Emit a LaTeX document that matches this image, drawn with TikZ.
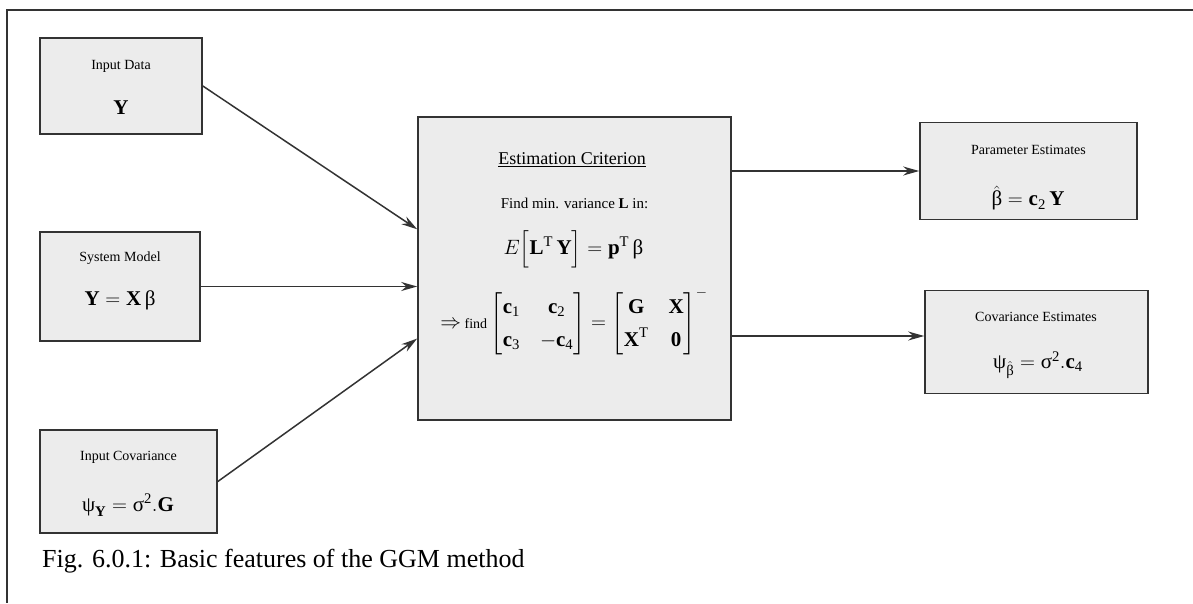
\documentclass[tikz,border=0pt]{standalone}
\usepackage{amsmath}
\usepackage{fontspec}
\setmainfont{Liberation Serif}
\usetikzlibrary{arrows.meta,positioning}

\definecolor{boxfill}{HTML}{ECECEC}
\definecolor{inkline}{HTML}{333333}

\newcommand{\gbeta}{\text{β}}
\newcommand{\gpsi}{\text{ψ}}
\newcommand{\gsigma}{\text{σ}}
\newcommand{\bv}[1]{\textbf{#1}}
\newcommand{\labsize}{\fontsize{14}{17}\selectfont}
\newcommand{\eqsize}{\fontsize{21}{25}\selectfont}

\tikzset{
  ggmbox/.style={draw=inkline, line width=1.6pt, fill=boxfill, inner sep=0pt},
  boxlab/.style={font=\labsize, inner sep=0pt},
  boxeq/.style={font=\eqsize, inner sep=0pt},
  flow/.style={draw=inkline, line width=1.5pt, -{Stealth[length=16pt,width=9pt]}},
}

\begin{document}
\begin{tikzpicture}[x=1pt, y=-1pt]
\useasboundingbox (0,0) rectangle (1193,603);
% frame
\coordinate (frametr) at (1193,10);
\coordinate (frametl) at (7,10);
\coordinate (framebl) at (7,603);
\draw [inkline, line width=2pt] (frametr) -- (frametl) -- (framebl);

% inputs
\node [ggmbox, minimum width=162pt, minimum height=96pt] (indata) at (121,86) {};
\node [boxlab] (indatalab) at (121,66) {Input Data};
\node [boxeq] (indataeq) at (121,108) {\bv{Y}};

\node [ggmbox, minimum width=160pt, minimum height=109pt] (sysmod) at (120,286.5) {};
\node [boxlab] (sysmodlab) at (120,258) {System Model};
\node [boxeq] (sysmodeq) at (120,300) {$\bv{Y}=\bv{X}\,\gbeta$};

\node [ggmbox, minimum width=177pt, minimum height=103pt] (incov) at (128.5,481.5) {};
\node [boxlab] (incovlab) at (128.5,457) {Input Covariance};
\node [boxeq] (incoveq) at (128,505) {$\gpsi_{\bv{Y}}=\gsigma^{\text{2}}.\bv{G}$};

% criterion
\node [ggmbox, minimum width=313pt, minimum height=303pt] (crit) at (574.5,268.5) {};
\node [inner sep=0pt, font=\fontsize{18}{21}\selectfont] (crittitle) at (572,160) {\underline{Estimation Criterion}};
\node [boxlab, font=\fontsize{15}{18}\selectfont] (critfind) at (574.5,203) {Find min. variance \bv{L} in:};
\node [boxeq] (critexp) at (573.5,249) {$E\Bigl[\bv{L}^{\text{T}}\,\bv{Y}\Bigr]=\bv{p}^{\text{T}}\,\gbeta$};
\node [boxeq] (critmat) at (574,322) {\setlength{\arraycolsep}{10pt}\renewcommand{\arraystretch}{1.3}%
  $\Rightarrow$\,{\labsize find}\,$\begin{bmatrix}\bv{c}_{\text{1}} & \bv{c}_{\text{2}}\\ \bv{c}_{\text{3}} & -\bv{c}_{\text{4}}\end{bmatrix}=\begin{bmatrix}\bv{G} & \bv{X}\\ \bv{X}^{\text{T}} & \bv{0}\end{bmatrix}^{-}$};

% outputs
\node [ggmbox, minimum width=217pt, minimum height=97pt] (param) at (1028.5,171) {};
\node [boxlab] (paramlab) at (1028.5,150) {Parameter Estimates};
\node [boxeq] (parameq) at (1028,198) {$\hat{\gbeta}=\bv{c}_{\text{2}}\,\bv{Y}$};

\node [ggmbox, minimum width=223pt, minimum height=103pt] (covar) at (1036.5,342) {};
\node [boxlab] (covarlab) at (1036,317) {Covariance Estimates};
\node [boxeq] (covareq) at (1038,365) {$\gpsi_{\hat{\gbeta}}=\gsigma^{\text{2}}.\bv{c}_{\text{4}}$};

% connectors
\draw [flow] (indata.east) -- (crit.166.5);
\draw [flow] (sysmod.east) -- (sysmod.east -| crit.west);
\draw [flow] (incov.east) -- (crit.204);
\draw [flow] (crit.east |- param.west) -- (param.west);
\draw [flow] ([yshift=6pt]crit.east |- covar.west) -- ([yshift=6pt]covar.west);

% caption
\node [anchor=base west, inner sep=0pt, font=\fontsize{26}{30}\selectfont] (caption) at (42,567) {Fig. 6.0.1: Basic features of the GGM method};
\end{tikzpicture}
\end{document}
